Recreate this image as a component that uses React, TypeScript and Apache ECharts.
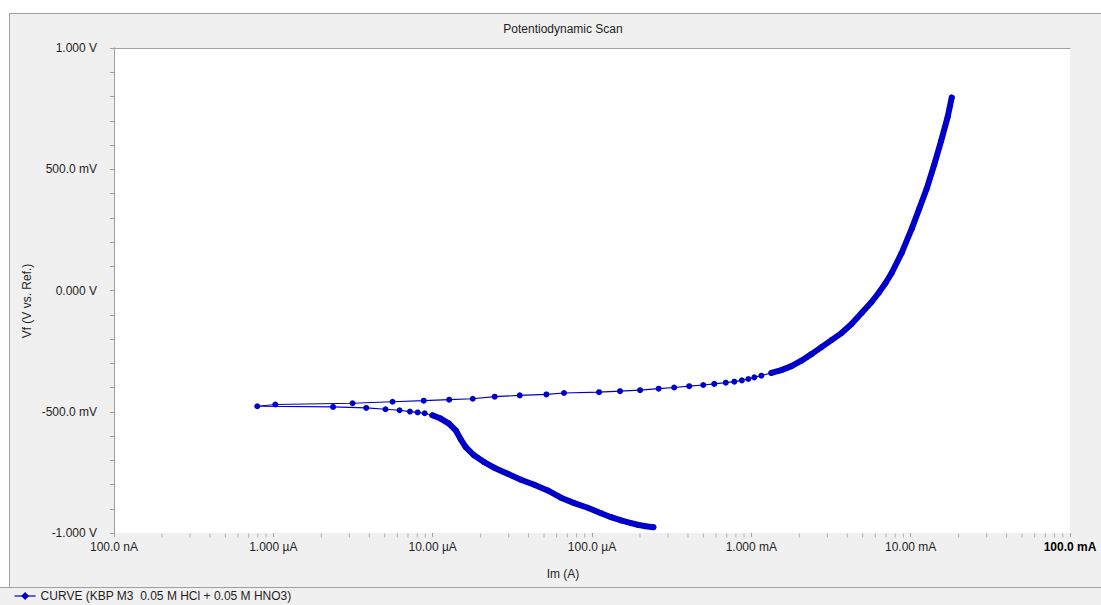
import React, { useEffect, useRef } from "react";
import * as echarts from "echarts";

const TITLE = "Potentiodynamic Scan";
const X_NAME = "Im (A)";
const Y_NAME = "Vf (V vs. Ref.)";
const SERIES_NAME = "CURVE (KBP M3  0.05 M HCl + 0.05 M HNO3)";

const xDecades = [-7, -6, -5, -4, -3, -2, -1];
const xTickLabels = ["100.0 nA", "1.000 µA", "10.00 µA", "100.0 µA", "1.000 mA", "10.00 mA", "100.0 mA"];
const xMinorMultipliers = [2, 3, 4, 5, 6, 7, 8, 9];
const yTickValues = [-1, -0.5, 0, 0.5, 1];
const yTickLabels = ["-1.000 V", "-500.0 mV", "0.000 V", "500.0 mV", "1.000 V"];

// Potential (V vs. Ref.) in scan order
const potentialV = [
  -0.976, -0.9719, -0.9661, -0.9595, -0.9483, -0.9347, -0.9182, -0.8959, -0.8769, -0.8545,
  -0.8244, -0.8008, -0.7802, -0.7554, -0.7306, -0.7066, -0.6798, -0.6455, -0.6136, -0.5764,
  -0.5488, -0.5281, -0.5145, -0.5062, -0.5029, -0.4992, -0.4938, -0.4897, -0.4843, -0.4802,
  -0.4773, -0.4702,
  -0.4649, -0.4587, -0.4545, -0.4504, -0.4463, -0.438, -0.4326, -0.4285, -0.4227, -0.4194,
  -0.4153, -0.4112, -0.405, -0.4, -0.3946, -0.3897, -0.3851, -0.3802, -0.376, -0.3707,
  -0.3649, -0.3583, -0.3512, -0.3401, -0.3285, -0.312, -0.2893, -0.2624, -0.2335, -0.2045,
  -0.1756, -0.1384, -0.093, -0.0475, -0.0103, 0.031, 0.0723, 0.155, 0.2541, 0.3368,
  0.4194, 0.5186, 0.6178, 0.7169, 0.7955,
];

// Absolute current (A) in scan order
const currentA = [
  2.429e-4, 2.164e-4, 1.938e-4, 1.759e-4, 1.522e-4, 1.317e-4, 1.139e-4, 9.4e-5, 7.74e-5, 6.38e-5,
  5.27e-5, 4.34e-5, 3.58e-5, 2.95e-5, 2.43e-5, 2.09e-5, 1.818e-5, 1.612e-5, 1.5e-5, 1.395e-5,
  1.266e-5, 1.123e-5, 9.96e-6, 8.91e-6, 8.05e-6, 7.2e-6, 6.2e-6, 5.06e-6, 3.83e-6, 2.37e-6,
  7.93e-7, 1.029e-6,
  3.14e-6, 5.6e-6, 8.78e-6, 1.27e-5, 1.785e-5, 2.45e-5, 3.52e-5, 5.17e-5, 6.67e-5, 1.107e-4,
  1.5e-4, 2.003e-4, 2.619e-4, 3.278e-4, 4.074e-4, 4.99e-4, 5.85e-4, 6.91e-4, 7.82e-4, 8.72e-4,
  9.57e-4, 1.044e-3, 1.156e-3, 1.336e-3, 1.544e-3, 1.785e-3, 2.063e-3, 2.384e-3, 2.756e-3, 3.185e-3,
  3.681e-3, 4.255e-3, 4.918e-3, 5.684e-3, 6.29e-3, 6.96e-3, 7.6e-3, 8.78e-3, 1.0146e-2, 1.131e-2,
  1.26e-2, 1.405e-2, 1.555e-2, 1.709e-2, 1.81e-2,
];

// points where the instrument's samples overlap into a continuous band
const DENSE_CATHODIC_END = 23;
const DENSE_ANODIC_START = 55;

const FONT = "'Liberation Sans', Arial, sans-serif";
const TEXT = "#1e1e1e";
const BLUE = "#0000c8";
const GRAY = "#a0a0a0";

export default function App() {
  const ref = useRef<HTMLDivElement>(null);

  useEffect(() => {
    if (!ref.current) return;
    const chart = echarts.init(ref.current, undefined, { renderer: "svg" });
    const points = currentA.map((c, i) => [c, potentialV[i]]);
    const minorTicks: number[][] = [];
    xDecades.slice(0, -1).forEach((d) => {
      xMinorMultipliers.forEach((k) => minorTicks.push([k * Math.pow(10, d), -1]));
    });

    chart.setOption({
      animation: false,
      backgroundColor: "#f0f0f0",
      grid: { left: 114, right: 31, top: 48, bottom: 72, show: true, backgroundColor: "#ffffff", borderWidth: 0 },
      legend: {
        show: true,
        left: 14,
        top: 589,
        padding: 0,
        itemWidth: 21,
        itemHeight: 10,
        selectedMode: false,
        data: [SERIES_NAME],
        lineStyle: { width: 1.2, color: BLUE },
        textStyle: { fontSize: 12, fontFamily: FONT, color: TEXT, lineHeight: 14 },
      },
      xAxis: [
        {
          type: "log",
          logBase: 10,
          min: 1e-7,
          max: 1e-1,
          axisLine: { show: false, onZero: false },
          axisTick: { show: true, length: 4, lineStyle: { color: GRAY } },
          splitLine: { show: false },
          axisLabel: {
            margin: 8,
            fontSize: 12,
            fontFamily: FONT,
            color: TEXT,
            showMinLabel: true,
            showMaxLabel: true,
            formatter: (v: number) => {
              const d = Math.round(Math.log10(v));
              const i = xDecades.indexOf(d);
              if (i < 0) return "";
              return i === xDecades.length - 1 ? `{b|${xTickLabels[i]}}` : xTickLabels[i];
            },
            rich: { b: { fontWeight: "bold", fontSize: 12, fontFamily: FONT, color: "#000" } },
          },
        },
        {
          type: "value",
          position: "top",
          min: 0,
          max: 1,
          axisLine: { show: true, onZero: false, lineStyle: { color: GRAY, width: 1 } },
          axisTick: { show: false },
          axisLabel: { show: false },
          splitLine: { show: false },
        },
      ],
      yAxis: {
        type: "value",
        min: -1,
        max: 1,
        interval: 0.5,
        axisLine: { show: true, onZero: false, lineStyle: { color: GRAY, width: 1 } },
        axisTick: { show: true, length: 4, lineStyle: { color: GRAY } },
        minorTick: { show: true, splitNumber: 5, length: 4, lineStyle: { color: GRAY } },
        splitLine: { show: false },
        axisLabel: {
          margin: 17,
          fontSize: 12,
          fontFamily: FONT,
          color: TEXT,
          formatter: (v: number) => {
            const i = yTickValues.findIndex((t) => Math.abs(t - v) < 1e-9);
            return i >= 0 ? yTickLabels[i] : "";
          },
        },
      },
      graphic: [
        { type: "rect", shape: { x: 0, y: 0, width: 1101, height: 13 }, style: { fill: "#ffffff" }, silent: true },
        { type: "rect", shape: { x: 0, y: 0, width: 9, height: 587 }, style: { fill: "#ffffff" }, silent: true },
        { type: "line", shape: { x1: 9, y1: 13.5, x2: 1101, y2: 13.5 }, style: { stroke: GRAY, lineWidth: 1 }, silent: true },
        { type: "line", shape: { x1: 9.5, y1: 13, x2: 9.5, y2: 587 }, style: { stroke: GRAY, lineWidth: 1 }, silent: true },
        { type: "line", shape: { x1: 0, y1: 587.5, x2: 1101, y2: 587.5 }, style: { stroke: GRAY, lineWidth: 1 }, silent: true },
        {
          type: "text",
          x: 563,
          y: 29,
          style: { text: TITLE, align: "center", verticalAlign: "middle", fontSize: 12, fontFamily: FONT, fill: TEXT },
        },
        {
          type: "text",
          x: 563,
          y: 574,
          style: { text: X_NAME, align: "center", verticalAlign: "middle", fontSize: 12, fontFamily: FONT, fill: TEXT },
        },
        {
          type: "text",
          x: 27,
          y: 301,
          rotation: Math.PI / 2,
          style: { text: Y_NAME, align: "center", verticalAlign: "middle", fontSize: 12, fontFamily: FONT, fill: TEXT },
        },
      ],
      series: [
        {
          type: "line",
          name: SERIES_NAME,
          data: [],
          symbol: "diamond",
          symbolSize: 8,
          itemStyle: { color: BLUE },
          lineStyle: { color: BLUE, width: 1.2 },
        },
        {
          type: "scatter",
          name: "x-minor-ticks",
          data: minorTicks,
          symbol: "rect",
          symbolSize: [1, 4],
          symbolOffset: [0, 2.5],
          itemStyle: { color: GRAY },
          clip: false,
          silent: true,
          z: 1,
        },
        {
          type: "line",
          name: "dense-cathodic",
          data: points.slice(0, DENSE_CATHODIC_END),
          symbol: "none",
          lineStyle: { color: BLUE, width: 6, cap: "round", join: "round" },
          silent: true,
          z: 2,
        },
        {
          type: "line",
          name: "dense-anodic",
          data: points.slice(DENSE_ANODIC_START),
          symbol: "none",
          lineStyle: { color: BLUE, width: 6, cap: "round", join: "round" },
          silent: true,
          z: 2,
        },
        {
          type: "line",
          name: SERIES_NAME,
          data: points,
          symbol: "circle",
          symbolSize: 6,
          itemStyle: { color: BLUE },
          lineStyle: { color: BLUE, width: 1.2 },
          silent: true,
          z: 3,
        },
      ],
    });

    return () => chart.dispose();
  }, []);

  return <div ref={ref} style={{ position: "absolute", left: 0, top: 0, width: 1101, height: 605 }} />;
}
